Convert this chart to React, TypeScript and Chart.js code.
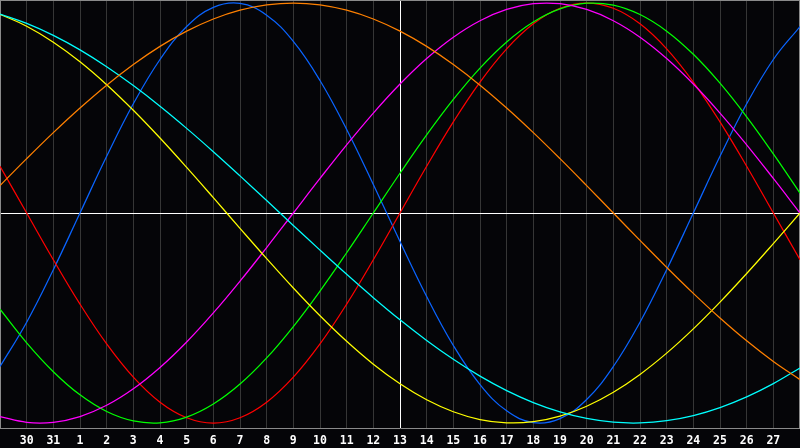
import React, { useEffect, useRef } from "react";
import { Chart, registerables } from "chart.js";

Chart.register(...registerables);

// Day index positions (0 = left edge, 30 = right edge)
const dayIndex = [0, 1, 2, 3, 4, 5, 6, 7, 8, 9, 10, 11, 12, 13, 14, 15, 16, 17, 18, 19, 20, 21, 22, 23, 24, 25, 26, 27, 28, 29, 30];
// Tick labels at positions 1..29
const tickLabels = ["30", "31", "1", "2", "3", "4", "5", "6", "7", "8", "9", "10", "11", "12", "13", "14", "15", "16", "17", "18", "19", "20", "21", "22", "23", "24", "25", "26", "27"];

const blueValues = [-0.731, -0.52, -0.27, 0, 0.27, 0.52, 0.731, 0.888, 0.979, 0.998, 0.942, 0.817, 0.631, 0.398, 0.136, -0.136, -0.398, -0.631, -0.817, -0.942, -0.998, -0.979, -0.888, -0.731, -0.52, -0.27, 0, 0.27, 0.52, 0.731, 0.888];
const redValues = [0.2225, 0, -0.2225, -0.4339, -0.6235, -0.7818, -0.901, -0.9749, -1, -0.9749, -0.901, -0.7818, -0.6235, -0.4339, -0.2225, 0, 0.2225, 0.4339, 0.6235, 0.7818, 0.901, 0.9749, 1, 0.9749, 0.901, 0.7818, 0.6235, 0.4339, 0.2225, 0, -0.2225];
const greenValues = [-0.4582, -0.6182, -0.7557, -0.866, -0.945, -0.9898, -0.9989, -0.9718, -0.9096, -0.8146, -0.6901, -0.5406, -0.3717, -0.1893, 0, 0.1893, 0.3717, 0.5406, 0.6901, 0.8146, 0.9096, 0.9718, 0.9989, 0.9898, 0.945, 0.866, 0.7557, 0.6182, 0.4582, 0.2817, 0.0951];
const magentaValues = [-0.9694, -0.9966, -0.9966, -0.9694, -0.9158, -0.8372, -0.7357, -0.6142, -0.4759, -0.3247, -0.1646, 0, 0.1646, 0.3247, 0.4759, 0.6142, 0.7357, 0.8372, 0.9158, 0.9694, 0.9966, 0.9966, 0.9694, 0.9158, 0.8372, 0.7357, 0.6142, 0.4759, 0.3247, 0.1646, 0];
const yellowValues = [0.9464, 0.8893, 0.8133, 0.7201, 0.6111, 0.4894, 0.3572, 0.2174, 0.0731, -0.0731, -0.2174, -0.3572, -0.4894, -0.6111, -0.7201, -0.8133, -0.8893, -0.9464, -0.9834, -0.9993, -0.994, -0.9675, -0.9204, -0.8536, -0.7686, -0.6673, -0.5517, -0.4244, -0.2881, -0.1456, 0];
const orangeValues = [0.1305, 0.2588, 0.3827, 0.5, 0.6088, 0.7071, 0.7934, 0.866, 0.9239, 0.9659, 0.9914, 1, 0.9914, 0.9659, 0.9239, 0.866, 0.7934, 0.7071, 0.6088, 0.5, 0.3827, 0.2588, 0.1305, 0, -0.1305, -0.2588, -0.3827, -0.5, -0.6088, -0.7071, -0.7934];
const cyanValues = [0.9473, 0.9027, 0.8457, 0.7767, 0.6966, 0.6068, 0.5086, 0.4031, 0.292, 0.1769, 0.0592, -0.0592, -0.1769, -0.292, -0.4031, -0.5086, -0.6068, -0.6966, -0.7767, -0.8457, -0.9027, -0.9473, -0.9785, -0.9961, -0.9996, -0.989, -0.9647, -0.9267, -0.8758, -0.8125, -0.7378];

const seriesList = [
  { name: "orange", values: orangeValues, color: "#ff8000" },
  { name: "cyan", values: cyanValues, color: "#00ffff" },
  { name: "yellow", values: yellowValues, color: "#ffff00" },
  { name: "magenta", values: magentaValues, color: "#ff00ff" },
  { name: "green", values: greenValues, color: "#00ff00" },
  { name: "red", values: redValues, color: "#ff0000" },
  { name: "blue", values: blueValues, color: "#0a64ff" },
];

const bgPlugin = {
  id: "bgFrame",
  beforeDraw(chart: any) {
    const ctx = chart.ctx;
    ctx.save();
    ctx.fillStyle = "#050508";
    ctx.fillRect(0, 0, chart.width, chart.height);
    ctx.restore();
  },
  beforeDatasetsDraw(chart: any) {
    const { ctx, chartArea } = chart;
    ctx.save();
    ctx.strokeStyle = "#8a8a8a";
    ctx.lineWidth = 1;
    ctx.beginPath();
    ctx.moveTo(chartArea.left, chartArea.top + 0.5);
    ctx.lineTo(chartArea.right, chartArea.top + 0.5);
    ctx.moveTo(chartArea.right - 0.5, chartArea.top);
    ctx.lineTo(chartArea.right - 0.5, chartArea.bottom);
    ctx.stroke();
    ctx.restore();
  },
};

export default function App() {
  const ref = useRef<HTMLCanvasElement | null>(null);

  useEffect(() => {
    document.body.style.margin = "0";
    document.body.style.background = "#000";
    const canvas = ref.current;
    if (!canvas) return;
    const chart = new Chart(canvas, {
      type: "line",
      data: {
        datasets: seriesList.map((s) => ({
          label: s.name,
          data: s.values.map((v, i) => ({ x: dayIndex[i], y: v })),
          borderColor: s.color,
          borderWidth: 1.25,
          pointRadius: 0,
          tension: 0.4,
          fill: false,
        })),
      },
      options: {
        animation: false,
        responsive: false,
        maintainAspectRatio: false,
        layout: { padding: 0 },
        plugins: { legend: { display: false }, tooltip: { enabled: false } },
        scales: {
          x: {
            type: "linear",
            min: 0,
            max: 30,
            afterBuildTicks: (axis: any) => {
              axis.ticks = tickLabels.map((_, i) => ({ value: i + 1 }));
            },
            afterFit: (axis: any) => {
              axis.height = 20;
            },
            grid: {
              color: (c: any) => (c.tick && c.tick.value === 15 ? "#ffffff" : "#363636"),
              drawTicks: false,
              lineWidth: 1,
            },
            border: { display: true, color: "#8a8a8a", width: 1 },
            ticks: {
              autoSkip: false,
              maxRotation: 0,
              padding: 6,
              color: "#ffffff",
              font: { family: "'DejaVu Sans Mono', monospace", size: 11.5, weight: "bold" },
              callback: (v: any) => tickLabels[Number(v) - 1] ?? "",
            },
          },
          y: {
            type: "linear",
            min: -1.0238,
            max: 1.0143,
            afterBuildTicks: (axis: any) => {
              axis.ticks = [{ value: 0 }];
            },
            afterFit: (axis: any) => {
              axis.width = 0;
            },
            grid: { color: "#ffffff", drawTicks: false, lineWidth: 1 },
            border: { display: true, color: "#8a8a8a", width: 1 },
            ticks: { display: false },
          },
        },
      },
      plugins: [bgPlugin],
    });
    return () => chart.destroy();
  }, []);

  return (
    <div style={{ width: 800, height: 448, background: "#050508" }}>
      <canvas ref={ref} width={800} height={448} style={{ display: "block" }} />
    </div>
  );
}
